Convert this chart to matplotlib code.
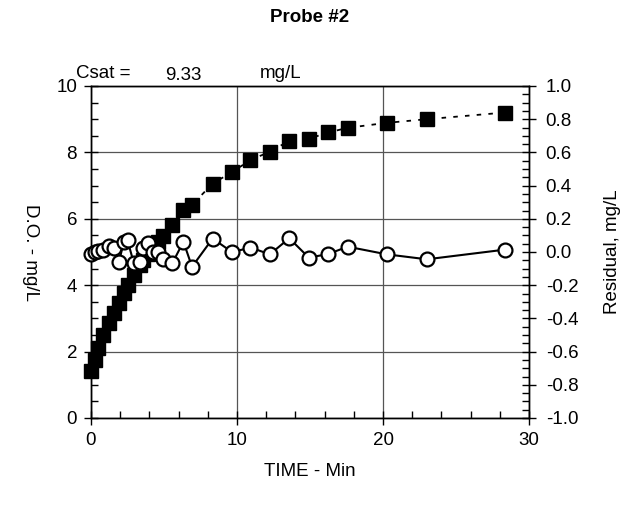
import matplotlib
matplotlib.use("Agg")
import matplotlib.pyplot as plt
from matplotlib.ticker import MultipleLocator

plt.rcParams['font.family'] = ['Liberation Sans', 'DejaVu Sans']

# Data
time_min = [0, 0.25, 0.5, 0.83, 1.25, 1.58, 1.92, 2.25, 2.5, 2.92, 3.33, 3.58, 3.92,
            4.25, 4.58, 4.92, 5.58, 6.33, 6.92, 8.33, 9.67, 10.92, 12.25, 13.58,
            14.92, 16.25, 17.58, 20.25, 23.0, 28.33]
do_mgL = [1.42, 1.75, 2.1, 2.5, 2.85, 3.15, 3.45, 3.78, 4.0, 4.3, 4.6, 4.75, 4.95,
          5.15, 5.3, 5.48, 5.8, 6.27, 6.42, 7.06, 7.41, 7.77, 8.02, 8.35,
          8.41, 8.6, 8.74, 8.89, 9.0, 9.2]
residual = [-0.014, -0.002, 0.006, 0.012, 0.036, 0.022, -0.058, 0.062, 0.072, -0.064,
            -0.058, 0.022, 0.057, 0.0, 0.002, -0.045, -0.066, 0.062, -0.089, 0.081,
            -0.001, 0.027, -0.014, 0.083, -0.034, -0.012, 0.032, -0.014, -0.044, 0.014]
csat = "9.33"
right_ticks = [-1.0, -0.8, -0.6, -0.4, -0.2, 0.0, 0.2, 0.4, 0.6, 0.8, 1.0]

FS = 13.5

fig = plt.figure(figsize=(6.32, 5.08), dpi=100)
ax = fig.add_axes([91/632, 90/508, 438/632, 332/508])
ax2 = ax.twinx()

ax.set_xlim(0, 30)
ax.set_ylim(0, 10)
ax2.set_ylim(-1.0, 1.0)

ax.grid(True, which='major', color='#555555', linewidth=0.9)
ax.set_axisbelow(True)

ax.plot(time_min, do_mgL, linestyle=(0, (2.5, 4)), color='black', linewidth=1.3,
        marker='s', markersize=10.5, markerfacecolor='black', markeredgecolor='black',
        zorder=3, clip_on=False)
ax2.plot(time_min, residual, linestyle='-', color='black', linewidth=1.5,
         marker='o', markersize=10, markerfacecolor='white', markeredgecolor='black',
         markeredgewidth=1.6, zorder=3, clip_on=False)

ax.xaxis.set_major_locator(MultipleLocator(10))
ax.xaxis.set_minor_locator(MultipleLocator(2))
ax.yaxis.set_major_locator(MultipleLocator(2))
ax.yaxis.set_minor_locator(MultipleLocator(0.5))
ax2.yaxis.set_minor_locator(MultipleLocator(0.05))

ax.tick_params(axis='both', which='major', direction='inout', length=10, width=1,
               labelsize=FS, top=False, right=False, pad=5)
ax.tick_params(axis='both', which='minor', direction='in', length=5, width=1,
               top=False, right=False)
ax2.tick_params(axis='y', which='major', direction='inout', length=10, width=1,
                labelsize=FS, pad=7)
ax2.tick_params(axis='y', which='minor', direction='in', length=5, width=1)

ax.set_yticks([0, 2, 4, 6, 8, 10])
ax.set_yticklabels(['0', '2', '4', '6', '8', '10'])
ax2.set_yticks(right_ticks)
ax2.set_yticklabels([f"{v:.1f}" for v in right_ticks])

for a in (ax, ax2):
    for s in a.spines.values():
        s.set_linewidth(1.0)
        s.set_color('black')

ax.set_xlabel('TIME - Min', fontsize=FS, labelpad=10)
ax.set_ylabel('D.O. - mg/L', fontsize=FS, rotation=270, va='center')
ax.yaxis.set_label_coords(-0.139, 0.5)
ax2.set_ylabel('Residual, mg/L', fontsize=FS, rotation=90, va='center')
ax2.yaxis.set_label_coords(1.19, 0.5)

fig.text(310/632, 1 - 18/508, 'Probe #2', fontsize=FS, fontweight='bold',
         ha='center', va='center')
fig.text(103/632, 1 - 73/508, 'Csat =', fontsize=FS, ha='center', va='center')
fig.text(183/632, 1 - 75/508, csat, fontsize=FS, ha='center', va='center')
fig.text(281/632, 1 - 73/508, 'mg/L', fontsize=FS, ha='center', va='center')

fig.savefig('out.png', dpi=100)
